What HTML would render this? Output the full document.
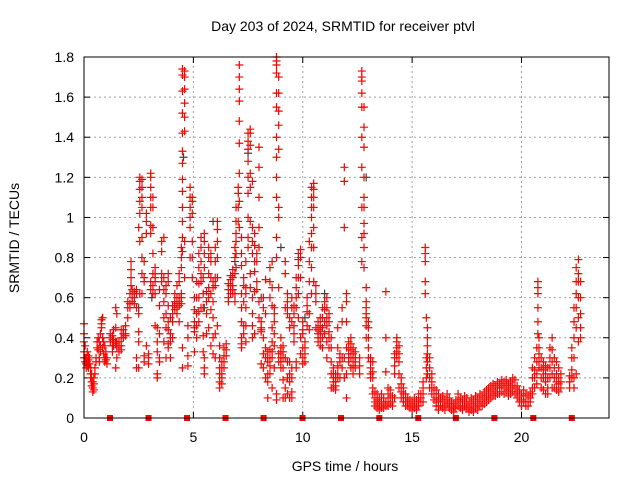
<!DOCTYPE html>
<html><head><meta charset="utf-8"><style>
html,body{margin:0;padding:0;background:#fff}
svg{display:block;font-family:"Liberation Sans",sans-serif}
</style></head><body>
<svg id="chart" width="640" height="480" xmlns="http://www.w3.org/2000/svg">
<rect width="640" height="480" fill="#fff"/>
<text x="343" y="31" font-size="14" text-anchor="middle">Day 203 of 2024, SRMTID for receiver ptvl</text>
<text transform="translate(19,238) rotate(-90)" font-size="14" text-anchor="middle">SRMTID / TECUs</text>
<text x="345" y="471" font-size="14" text-anchor="middle">GPS time / hours</text>
<g id="grid"></g><g id="axes"></g><g id="marks"></g>
<rect x="84" y="57" width="525" height="361" fill="none" stroke="#000" stroke-width="1"/>
</svg>
<script>
const xTicks=[0,5,10,15,20];
const yTicks=[0,0.2,0.4,0.6,0.8,1,1.2,1.4,1.6,1.8];
const yTickLabels=["0","0.2","0.4","0.6","0.8","1","1.2","1.4","1.6","1.8"];
const times=[0,0.05,0.1,0.15,0.2,0.25,0.3,0.35,0.4,0.45,0.5,0.55,0.6,0.65,0.7,0.75,0.8,0.85,0.9,0.95,1.0,1.05,1.2,1.3,1.35,1.45,1.5,1.6,1.7,1.8,1.9,2.0,2.1,2.15,2.2,2.3,2.4,2.5,2.55,2.65,2.75,2.85,2.95,3.05,3.15,3.25,3.35,3.45,3.55,3.65,3.75,3.85,3.95,4.05,4.15,4.25,4.35,4.45,4.5,4.6,4.75,4.85,4.95,5.05,5.15,5.25,5.35,5.45,5.5,5.6,5.7,5.8,5.9,6.0,6.1,6.2,6.3,6.4,6.5,6.6,6.7,6.8,6.9,6.95,7.05,7.1,7.2,7.3,7.4,7.5,7.6,7.7,7.8,7.9,8.0,8.1,8.2,8.3,8.4,8.5,8.6,8.7,8.8,8.9,9.0,9.1,9.2,9.3,9.4,9.5,9.6,9.7,9.8,9.9,10.0,10.1,10.2,10.3,10.4,10.5,10.6,10.7,10.8,10.9,11.0,11.1,11.2,11.3,11.4,11.5,11.6,11.7,11.8,11.9,12.0,12.1,12.2,12.3,12.4,12.6,12.7,12.8,12.9,13.0,13.1,13.2,13.3,13.4,13.5,13.6,13.7,13.8,13.9,14.0,14.1,14.2,14.3,14.4,14.5,14.6,14.7,14.8,14.9,15.0,15.1,15.2,15.3,15.4,15.5,15.6,15.65,15.7,15.8,15.9,16.0,16.1,16.2,16.3,16.4,16.5,16.6,16.7,16.8,16.9,17.0,17.1,17.2,17.3,17.4,17.5,17.6,17.7,17.8,17.9,18.0,18.1,18.2,18.3,18.4,18.5,18.6,18.7,18.8,18.9,19.0,19.1,19.2,19.3,19.4,19.5,19.6,19.7,19.8,19.9,20.0,20.1,20.2,20.3,20.4,20.5,20.6,20.7,20.75,20.8,20.9,21.0,21.1,21.2,21.3,21.4,21.5,21.6,21.7,21.8,22.2,22.3,22.4,22.5,22.6,22.7];
const valueGroups=[[.47,.42,.38,.33,.30],[.36,.30,.28],[.30,.27,.25],[.28,.26,.33],[.25,.29,.31],[.27,.30],[.22,.20,.25],[.18,.16,.22],[.15,.18,.13],[.20,.17,.14],[.25,.22],[.30,.28],[.38,.35],[.40,.34],[.38,.30,.28],[.42,.36,.33],[.49,.47,.45],[.50,.40,.35],[.38,.32],[.36,.30,.28],[.33,.29],[.30,.27],[.42,.40,.38],[.41,.39,.36,.33],[.44,.39,.36],[.55,.45,.38,.37,.25],[.52,.38,.35,.30],[.38,.36,.33],[.44,.40,.36,.34],[.44,.42,.40],[.46,.42,.41],[.58,.55,.50],[.62,.57,.55],[.78,.74,.70,.66],[.64,.60,.58],[.63,.62,.60,.57],[.64,.62,.55,.30,.25],[.52,.43,.38,.95,.25],[1.2,1.18,1.14,1.08,1.02,.88,.62],[1.19,1.15,1.1,1.05,.90,.80,.72,.62],[.78,.70,.68,.31,.28],[1.02,.98,.92,.36],[.32,.30,.27],[1.22,1.2,1.15,1.1,1.05,.96,.92,.68,.64],[1.1,1.05,.95,.82,.72,.66,.62],[.75,.72,.70,.68,.62,.46],[.45,.38,.33,.22,.20],[.64,.56,.42,.30,.28],[.88,.83,.72,.68],[.90,.70,.64,.58,.50,.38],[.66,.62,.52,.45,.30],[.72,.68,.56,.48,.44,.37,.35],[.50,.42,.40,.38,.30],[.56,.52,.48,.40],[.62,.58,.56,.54],[.66,.60,.57,.55,.52],[.72,.68,.60,.58,.56,.48],[.85,.80,.75,.62,.60,.57],[1.74,1.71,1.63,1.52,1.42,1.33,1.27,1.19,1.13,1.05,.98,.90,.83,.35,.25],[1.73,1.7,1.64,1.57,1.50,1.43,.88,.70],[.46,.40,.31,.26],[1.0,1.05,1.1,1.15,.95,.80],[1.1,1.08,1.02,.88,.80,.70],[.60,.54,.48,.45,.43,.33],[.68,.60,.52,.46,.40],[.82,.75,.67,.60,.53,.48],[.90,.85,.78,.72,.68,.55],[.70,.62,.55,.41,.33],[.92,.88,.82,.75,.30,.25,.22],[.63,.58,.52,.42],[.85,.80,.72,.65,.60,.45],[.82,.78,.70,.62,.54,.36],[.68,.65,.58,.50,.40,.32],[.85,.78,.70,.66,.42,.30],[.98,.94,.88,.80,.70,.46],[.36,.30,.25,.22,.18,.15],[.28,.25,.22,.20,.17],[.35,.31,.28,.25],[.37,.34,.31],[.67,.64,.60,.58],[.71,.69,.66,.64,.62],[.74,.70,.66,.64,.62],[.85,.80,.72,.62,.58],[1.05,.98,.92,.88,.82,.75],[1.15,1.12,1.05,.98],[1.76,1.70,1.64,1.58,1.48,1.37,1.22,1.08,.95],[.90,.82,.76,.62,.55,.48,.40,.37,.35],[.70,.66,.58,.46,.42],[.78,.65,.62,.55,.46,.38],[1.42,1.38,1.34,1.28,1.20,1.12,1.0,.90,.85],[1.44,1.42,1.36,1.22,1.15,.98,.72,.65],[1.18,.95,.88,.82,.60,.52,.46,.40],[.92,.86,.78,.73,.63,.42],[.82,.78,.68,.64],[1.35,1.25,1.10,.95,.85,.58,.50],[.48,.45,.44,.43,.27],[.60,.55,.40,.32,.25],[.69,.52,.35,.30,.20],[.33,.30,.28,.22,.18,.10],[.75,.68,.60,.34,.30,.26,.22],[.78,.65,.56,.45,.38,.33,.30,.15],[.55,.52,.48,.42,.36,.25],[1.8,1.78,1.76,1.72,1.62,1.55,1.40,1.30,1.20,1.10,.90,.80,.12,.09],[1.70,1.62,1.53,1.46,1.34,1.05,1.0,.65,.32,.28],[.40,.35,.33,.30,.28,.25],[.36,.33,.30,.25,.19,.10],[.78,.72,.55,.30,.15,.10],[.62,.58,.55,.52,.28,.20,.12],[.50,.45,.28,.22,.18,.10],[.60,.55,.48,.25,.20,.13,.10],[.56,.52,.46,.42,.38],[.70,.65,.60,.55,.28,.25],[.82,.79,.76,.70,.62,.50],[.84,.80,.70,.40,.32],[.48,.44,.42,.35,.30,.27],[.38,.35,.32,.28],[.60,.56,.53,.46],[.88,.78,.68,.52,.44],[1.15,1.10,1.05,1.0,.92,.85,.75,.62],[1.17,1.14,1.10,1.05,.95,.85,.68],[.66,.62,.58,.45],[.48,.44,.42,.40,.38],[.50,.46,.43,.40,.36],[.55,.50,.45,.40,.35],[.58,.54,.48,.42],[.60,.55,.50,.46,.38,.30],[.52,.48,.43,.40,.35],[.40,.35,.28,.22,.15],[.25,.22,.20,.18,.15],[.22,.20,.18,.16,.14],[.45,.35,.26,.22,.20],[.32,.30,.28,.20],[.55,.48,.30,.25],[1.25,1.18,.95,.30,.20],[.62,.58,.48,.35,.22,.10],[.38,.35,.32,.30,.28],[.40,.37,.34,.30,.25],[.35,.32,.30,.26,.22],[.33,.30,.28,.25],[.30,.26,.22],[.78,.90,1.05,1.25,1.40,1.55,1.68,1.73,1.7,1.62],[1.55,1.45,1.35,1.2,1.1,1.05,.97,.92,.85,.75],[.65,.58,.55,.52,.50,.46,.40],[.48,.45,.40,.35,.30],[.30,.28,.25,.22,.20],[.28,.23,.20,.15,.12],[.13,.10,.08,.06],[.12,.09,.07,.05],[.10,.08,.06,.04],[.12,.08,.05],[.10,.07,.05],[.63,.40,.23,.08,.06],[.15,.12,.08,.06],[.14,.10,.07],[.11,.08,.06],[.32,.30,.26,.22,.10],[.40,.38,.35,.33,.30],[.36,.32,.28,.22,.15],[.20,.17,.13,.10],[.15,.12,.10,.08],[.12,.10,.08,.06],[.10,.08,.06],[.09,.07,.05],[.08,.06,.04],[.10,.07,.05],[.09,.06,.04],[.12,.08,.06],[.12,.10,.08],[.18,.15,.12,.08],[.85,.82,.78,.68,.62],[.50,.30,.25,.20],[.45,.40,.36,.32,.28,.22],[.30,.25,.20,.15],[.22,.18,.15,.12],[.15,.12,.09],[.14,.10,.08,.06],[.12,.09,.06,.04],[.10,.08,.06],[.11,.08,.05],[.09,.06,.04],[.12,.09,.07],[.10,.07,.05],[.08,.06,.04],[.07,.05,.03],[.09,.07,.05],[.12,.09,.06],[.10,.08,.05],[.09,.06,.04],[.11,.08,.06],[.10,.07,.05],[.08,.05,.03],[.10,.07,.04],[.09,.06,.03],[.11,.08,.05],[.10,.07,.04],[.12,.09,.06],[.11,.08,.06],[.13,.10,.07],[.14,.11,.08],[.15,.12,.09],[.16,.13,.10],[.17,.14,.11],[.16,.13,.11],[.18,.15,.12],[.17,.15,.12],[.19,.16,.13],[.18,.15,.12],[.19,.16,.13],[.17,.14,.11],[.18,.15,.12],[.20,.16,.13],[.19,.15,.12],[.16,.13,.10],[.14,.11,.08],[.12,.09,.06],[.14,.11,.08],[.12,.08,.06],[.11,.08,.06],[.13,.10,.08],[.25,.20,.15,.12],[.30,.24,.20,.15],[.35,.28,.22,.17],[.68,.65,.62,.55,.48,.42],[.40,.35,.32,.28,.25],[.30,.25,.20,.15],[.28,.24,.20,.14],[.26,.22,.18,.12],[.25,.20,.15,.12],[.35,.30,.25,.20],[.40,.34,.28,.22,.15],[.30,.25,.20,.15],[.28,.22,.18,.14],[.25,.20,.17,.13],[.22,.18,.15],[.21,.18,.15],[.35,.30,.24,.20],[.55,.48,.40,.30,.20,.15],[.75,.68,.62,.55,.45,.22],[.79,.72,.68,.60,.50,.38],[.68,.60,.52,.45,.40]];
const darkTimes=[2.5,3.1,4.55,5.5,5.9,6.9,7.5,8.1,9.0,10.1,12.9,11.0];
const darkValues=[0.55,0.6,1.3,0.55,0.98,0.78,1.32,0.6,0.85,0.5,1.2,0.62];
const gapTimes=[1.19,2.95,4.71,6.47,8.21,9.99,11.75,13.5,15.28,17.0,18.76,20.54,22.3];

const NS="http://www.w3.org/2000/svg";
const X0=84,X1=609,Y0=418,Y1=57,XMAX=24,YMAX=1.8;
function xs(t){return X0+(X1-X0)*t/XMAX;}
function ys(v){return Y0-(Y0-Y1)*v/YMAX;}
function mk(tag,attrs,parent){const e=document.createElementNS(NS,tag);for(const k in attrs)e.setAttribute(k,attrs[k]);parent.appendChild(e);return e;}
const grid=document.getElementById('grid'),axes=document.getElementById('axes'),marks=document.getElementById('marks');
yTicks.forEach((v,i)=>{
  const y=ys(v);
  if(i>0&&i<yTicks.length-1){const g=mk('line',{x1:X0,x2:X1,y1:y,y2:y,stroke:'#a0a0a0','stroke-dasharray':'2,3'},grid);
  
  }
  mk('line',{x1:X0,x2:X0+6,y1:y,y2:y,stroke:'#000'},axes);
  mk('line',{x1:X1,x2:X1-6,y1:y,y2:y,stroke:'#000'},axes);
  const t=mk('text',{x:X0-10,y:y+5,'font-size':14,'text-anchor':'end'},axes);
  t.textContent=yTickLabels[i];
  
  
});
xTicks.forEach(v=>{
  const x=xs(v);
  if(v>0){const g=mk('line',{x1:x,x2:x,y1:Y0,y2:Y1,stroke:'#a0a0a0','stroke-dasharray':'2,3'},grid);
  
  }
  mk('line',{x1:x,x2:x,y1:Y0,y2:Y0-6,stroke:'#000'},axes);
  mk('line',{x1:x,x2:x,y1:Y1,y2:Y1+6,stroke:'#000'},axes);
  const t=mk('text',{x:x,y:Y0+24,'font-size':14,'text-anchor':'middle'},axes);
  t.textContent=String(v);
  
  
});
function plus(t,v,color,name){
  const x=xs(t),y=ys(v);
  const p=mk('path',{d:`M${x-4},${y}h8M${x},${y-4}v8`,stroke:color,'stroke-width':1.2,fill:'none'},marks);
  
  
}
darkTimes.forEach((t,i)=>plus(t,darkValues[i],'#404040','dark-point'));
times.forEach((t,i)=>valueGroups[i].forEach(v=>plus(t,v,'#ff0000','srmtid-point')));
gapTimes.forEach(t=>{
  const r=mk('rect',{x:xs(t)-3,y:Y0-3,width:6,height:6,fill:'#ff0000'},marks);
  
  
});
</script>
</body></html>
